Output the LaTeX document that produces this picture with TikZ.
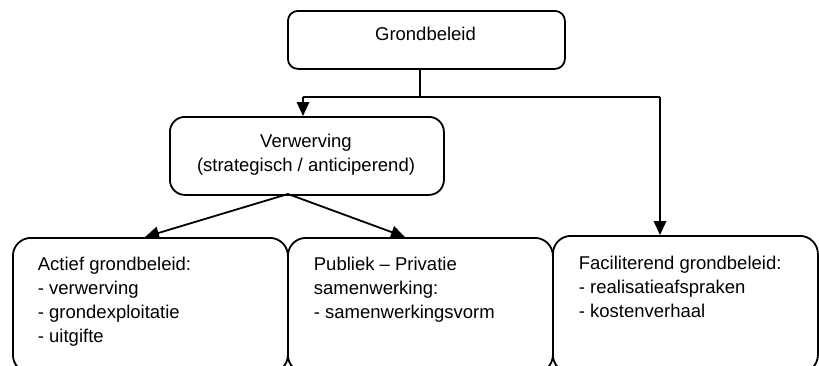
\documentclass[tikz,border=0pt]{standalone}
\usepackage{fontspec}
\setmainfont{Liberation Sans}
\usetikzlibrary{arrows.meta}
\begin{document}
\begin{tikzpicture}[x=1pt,y=-1pt,line width=1.8pt,
  lbl/.style={inner sep=0pt,font=\fontsize{18.5}{24}\selectfont},
  boxbase/.style={draw,inner sep=0pt,anchor=north west},
  arr/.style={-{Triangle[length=14pt,width=12.5pt]}}]
\useasboundingbox (0,0) rectangle (819,365);
\clip (0,0) rectangle (819,365);
% boxes
\node[boxbase,rounded corners=10pt,minimum width=277pt,minimum height=58pt] (top) at (287,10) {};
\node[boxbase,rounded corners=15pt,minimum width=274pt,minimum height=78pt] (mid) at (169,116) {};
\node[boxbase,rounded corners=18pt,minimum width=275pt,minimum height=135pt] (act) at (12,237) {};
\node[boxbase,rounded corners=18pt,minimum width=265pt,minimum height=135pt] (ppp) at (287,237) {};
\node[boxbase,rounded corners=18pt,minimum width=265pt,minimum height=137pt] (fac) at (552,235) {};
% texts
\node[lbl,anchor=base] (toptxt) at (425.5,40) {Grondbeleid};
\node[lbl,align=center] (midtxt) at (306,155) {Verwerving\\(strategisch / anticiperend)};
\node[lbl,align=left,anchor=north west] (acttxt) at (37,256.5) {Actief grondbeleid:\\- verwerving\\- grondexploitatie\\- uitgifte};
\node[lbl,align=left,anchor=north west] (ppptxt) at (313,256.5) {Publiek – Privatie\\samenwerking:\\- samenwerkingsvorm};
\node[lbl,align=left,anchor=north west] (factxt) at (578,255.5) {Faciliterend grondbeleid:\\- realisatieafspraken\\- kostenverhaal};
% connectors
\coordinate (jt) at (420,97);
\coordinate (jl) at (303,97);
\coordinate (jr) at (660,97);
\coordinate (ms) at (288,194);
\coordinate (al) at (145,237);
\coordinate (ar) at (405,237);
\draw (jt |- top.south) -- (jt);
\draw (jl) -- (jr);
\draw[arr] (jl) -- (jl |- mid.north);
\draw[arr] (jr) -- (jr |- fac.north);
\draw[arr] (ms) -- (al);
\draw[arr] (ms) -- (ar);
\end{tikzpicture}
\end{document}
